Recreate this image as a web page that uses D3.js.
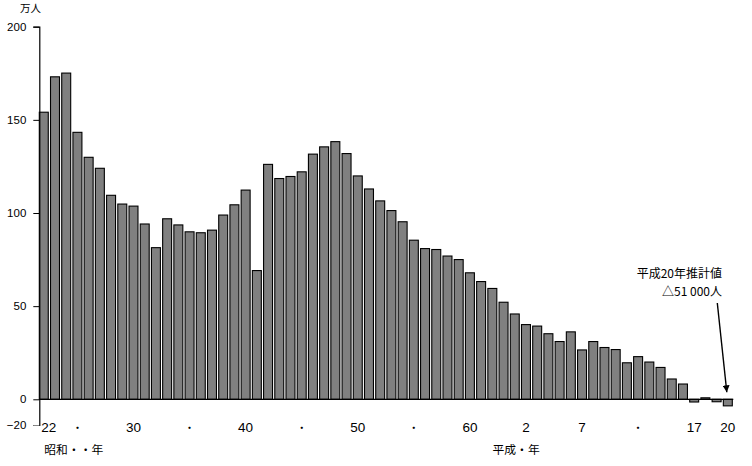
<!DOCTYPE html>
<html><head><meta charset="utf-8">
<script src="https://cdn.jsdelivr.net/npm/d3@7/dist/d3.min.js"></script>
<style>
body{margin:0;background:#fff;}
svg{display:block;}
text{font-family:"Noto Sans CJK JP","Noto Sans",sans-serif;fill:#000;}
</style></head>
<body>
<svg id="c" width="752" height="466"></svg>
<script>
// Natural increase of population, Showa 22 (1947) – Heisei 20 (2008), unit: 万人 (10,000 persons)
const years = d3.range(22, 64).map(d => "S" + d).concat(d3.range(1, 21).map(d => "H" + d));
const values = [
  154.1, 173.1, 175.1, 143.3, 129.9, 124.0, 109.5, 104.8, 103.7, 94.1,
  81.4, 96.9, 93.6, 89.9, 89.4, 90.8, 98.9, 104.4, 112.3, 69.1,
  126.1, 118.5, 119.6, 122.1, 131.6, 135.5, 138.3, 131.9, 119.9, 112.9,
  106.5, 101.3, 95.3, 85.4, 80.9, 80.4, 76.9, 75.0, 67.9, 63.2,
  59.5, 52.1, 45.8, 40.1, 39.3, 35.2, 31.0, 36.2, 26.5, 31.0,
  27.8, 26.7, 19.6, 22.9, 20.0, 17.1, 10.9, 8.2, -2.1, 0.8,
  -1.9, -5.1
];
const tickLabels = [
  {cat: "S22", text: "22"}, {cat: "S25", text: "・"}, {cat: "S30", text: "30"},
  {cat: "S35", text: "・"}, {cat: "S40", text: "40"}, {cat: "S45", text: "・"},
  {cat: "S50", text: "50"}, {cat: "S55", text: "・"}, {cat: "S60", text: "60"},
  {cat: "H2", text: "2"}, {cat: "H7", text: "7"}, {cat: "H12", text: "・"},
  {cat: "H17", text: "17"}, {cat: "H20", text: "20"}
];
const yTicks = [-20, 0, 50, 100, 150, 200];
const unitLabel = "万人";
const eraLabels = [{cat: "S22", text: "昭和・・年"}, {cat: "H2", text: "平成・年"}];
const noteLines = ["平成20年推計値", "△51 000人"];

const svg = d3.select("#c");
const x = d3.scaleBand().domain(years).range([39.3, 732.3]).paddingInner(0.2).paddingOuter(0);
const y = d3.scaleLinear().domain([-20, 0, 200]).range([425, 399.3, 26.7]);

// bars
svg.append("g").selectAll("rect").data(values).join("rect")
  .attr("x", (d, i) => x(years[i]))
  .attr("width", x.bandwidth())
  .attr("y", d => y(Math.max(0, d)))
  .attr("height", d => Math.abs(y(d) - y(0)))
  .attr("fill", "#808080")
  .attr("stroke", "#000")
  .attr("stroke-width", 1.1);

// zero baseline
svg.append("line")
  .attr("x1", 39.3).attr("x2", x.range()[1] + 1)
  .attr("y1", y(0)).attr("y2", y(0))
  .attr("stroke", "#000").attr("stroke-width", 1.2);

// y axis
const yAxis = d3.axisLeft(y).tickValues(yTicks).tickSize(6).tickPadding(7);
const gy = svg.append("g").attr("transform", "translate(39.3,0)").call(yAxis);
gy.select(".domain").attr("stroke", "#000").attr("stroke-width", 1.2);
gy.selectAll(".tick line").attr("stroke", "#000");
gy.selectAll(".tick").filter(d => d < 0).select("line").attr("stroke", "#888");
gy.selectAll(".tick text").style("font-size", "11.5px").style("font-family", "'Liberation Sans',sans-serif");

svg.append("text").attr("x", 20).attr("y", 12).style("font-size", "10.5px").text(unitLabel);

// x category labels
svg.append("g").selectAll("text").data(tickLabels).join("text")
  .attr("x", (d, i) => x(d.cat) + x.bandwidth() / 2 + (i === 0 ? 5 : 0))
  .attr("y", 432)
  .attr("text-anchor", "middle")
  .style("font-size", d => d.text === "・" ? "11px" : "13.5px")
  .style("font-family", d => d.text === "・" ? null : "'Liberation Sans',sans-serif")
  .text(d => d.text);

svg.append("g").selectAll("text").data(eraLabels).join("text")
  .attr("x", (d, i) => x(d.cat) + (i === 0 ? 5 : -29))
  .attr("y", 454)
  .style("font-size", "11.8px")
  .text(d => d.text);

// annotation
const lastCat = years[years.length - 1];
const ax = x(lastCat) + x.bandwidth() / 2;
svg.append("g").selectAll("text").data(noteLines).join("text")
  .attr("x", 722).attr("y", (d, i) => 278 + i * 18)
  .attr("text-anchor", "end")
  .style("font-size", "12px")
  .text(d => d);

svg.append("defs").append("marker")
  .attr("id", "ah").attr("viewBox", "0 0 10 10").attr("refX", 10).attr("refY", 5)
  .attr("markerWidth", 5).attr("markerHeight", 5).attr("orient", "auto")
  .append("path").attr("d", "M0,0L10,5L0,10Z").attr("fill", "#000");
svg.append("line")
  .attr("x1", 717.3).attr("y1", 303)
  .attr("x2", ax - 1).attr("y2", y(0) - 7)
  .attr("stroke", "#000").attr("stroke-width", 1.4)
  .attr("marker-end", "url(#ah)");
</script>
</body></html>
